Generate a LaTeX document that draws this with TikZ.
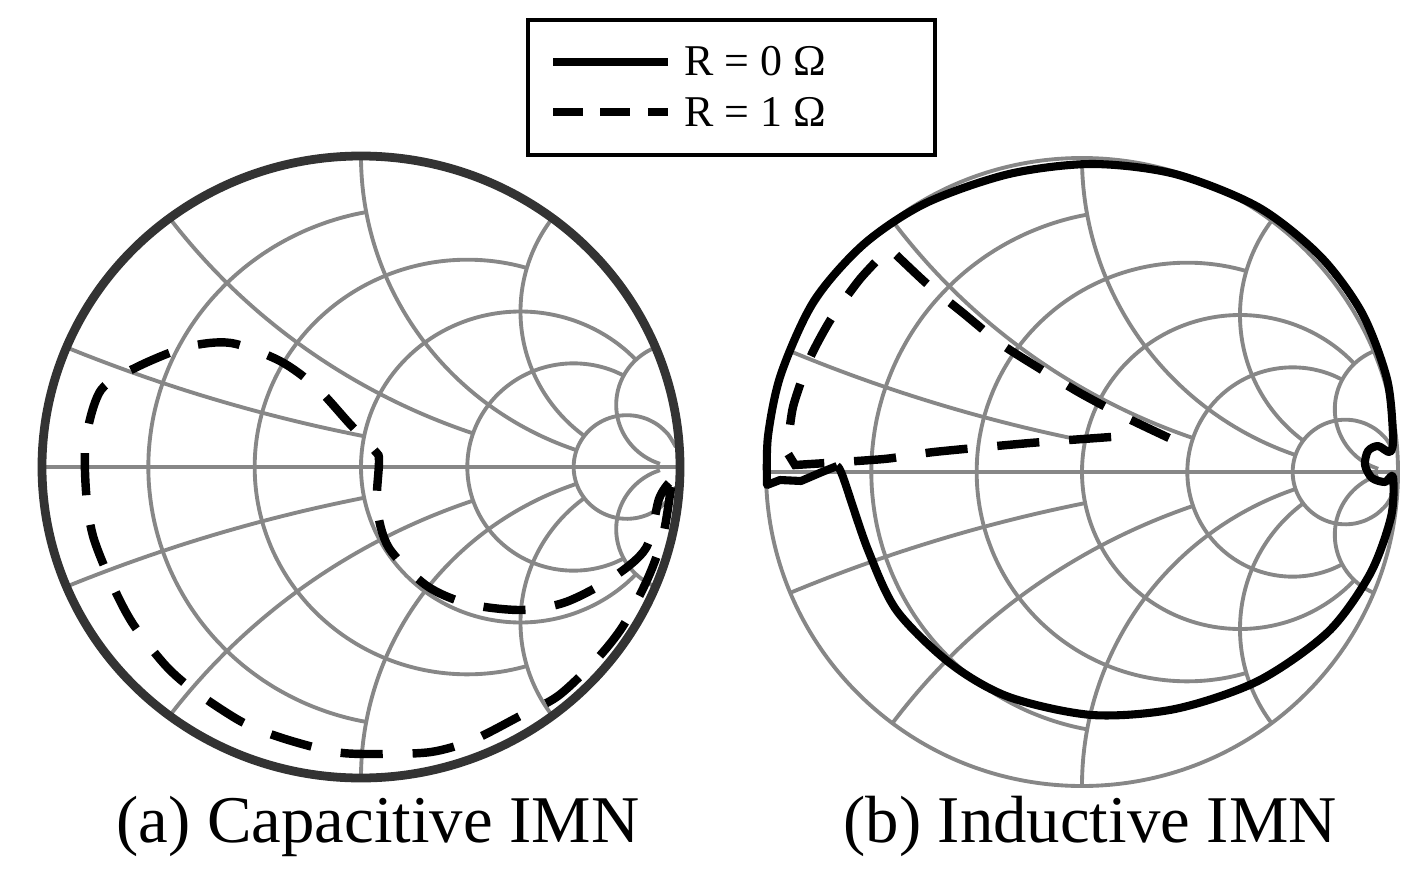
\documentclass[tikz,border=0pt]{standalone}
\usepackage{fontspec}
\setmainfont{Liberation Serif}
\begin{document}
\begin{tikzpicture}[x=0.02cm,y=-0.02cm,
  gridline/.style={draw=black!47,line width=2.2pt},
  curve/.style={draw=black,line width=4.6pt},
  dcurve/.style={draw=black,line width=4.8pt,dash pattern=on 24pt off 17pt},
  lbl/.style={font=\fontsize{38}{40}\selectfont,inner sep=0pt}]
\useasboundingbox (0,0) rectangle (1426,875);
\newcommand\smithgridA{%
  \foreach \r/\L in {0.2/1,0.5/2,1/5,2/5,5/30}{%
    \pgfmathsetmacro\aa{atan(\L)}%
    \draw[gridline] plot[domain=-\aa:\aa,samples=120,variable=\t,smooth]
      ({(\r*\r+tan(\t)*tan(\t)-1)/((\r+1)*(\r+1)+tan(\t)*tan(\t))},{2*tan(\t)/((\r+1)*(\r+1)+tan(\t)*tan(\t))});
    \pgfmathsetmacro\bb{atan(\L)}%
    \foreach \s in {1,-1}{%
      \draw[gridline] plot[domain=0:\bb,samples=100,variable=\t,smooth]
        ({(tan(\t)*tan(\t)+\r*\r-1)/((tan(\t)+1)*(tan(\t)+1)+\r*\r)},{\s*2*\r/((tan(\t)+1)*(tan(\t)+1)+\r*\r)});
    }%
  }%
  \draw[gridline] (-1,0) -- (1,0);
}
% left chart
\begin{scope}[shift={(361,467)},xscale=319,yscale=-311]
  \smithgridA
  \draw[draw=black!80,line width=5pt] (0,0) circle[x radius=1,y radius=1];
\end{scope}
% right chart
\begin{scope}[shift={(1082,472)},xscale=316,yscale=-314]
  \smithgridA
  \draw[gridline] (0,0) circle[x radius=1,y radius=1];
\end{scope}
% left dashed curve
\draw[dcurve] plot[smooth,tension=0.5] coordinates {(671,487) (663,536) (648,578) (623,626) (596,660) (558,696) (520,716) (473,740) (431,752) (377,754) (335,752) (282,738) (242,722) (196,692) (166,666) (133,624) (112,584) (93,536) (86,491) (86,439) (101,390) (137,367) (187,347) (231,343) (280,361) (316,387) (349,423) (375,451) (379,461) (377,507) (389,548) (427,586) (469,604) (522,610) (566,602) (612,578) (646,548) (659,499) (669,483)};
% right solid curve
\draw[curve,line join=round] plot[smooth,tension=0.5] coordinates {(837,466) (843,477) (868,550) (897,611) (951,664) (1009,697) (1092,715) (1175,709) (1258,681) (1328,632) (1370,574) (1391,517) (1393,477) (1385,482) (1372,478) (1365,465) (1368,451) (1378,446) (1390,452) (1393,436) (1387,379) (1362,313) (1320,256) (1258,207) (1175,174) (1092,164) (1009,174) (926,203) (864,244) (814,301) (781,374) (768,436) (767,485)}
  -- (780,480) -- (801,481) -- (822,472) -- (837,466);
% right dashed curve
\draw[dcurve,line join=miter] plot[smooth,tension=0.4] coordinates {(1169,438) (1125,417) (1080,393) (1042,370) (1001,344) (963,313) (926,283) (889,248)} -- plot[smooth,tension=0.4] coordinates {(889,248) (860,279) (831,319) (810,358) (793,407) (787,452)} -- plot[smooth,tension=0.4] coordinates {(795,465) (884,459) (934,452) (1030,443) (1125,436)};
% legend
\node[draw=black,line width=1.8pt,minimum width=407*0.02cm,minimum height=135*0.02cm,inner sep=0pt] (legend) at (731.5,87.5) {};
\coordinate (s1) at (553,62); \coordinate (s2) at (668,62);
\coordinate (d1) at (553,112); \coordinate (d2) at (668,112);
\draw[black,line width=4.6pt] (s1) -- (s2);
\draw[black,line width=4.6pt,dash pattern=on 17pt off 10pt] (d1) -- (d2);
\node[anchor=west,inner sep=0pt,font=\fontsize{25}{27}\selectfont] (l1) at (684,61) {R = 0 Ω};
\node[anchor=west,inner sep=0pt,font=\fontsize{25}{27}\selectfont] (l2) at (684,112) {R = 1 Ω};
% captions
\node[lbl] (capA) at (378,826) {(a) Capacitive IMN};
\node[lbl] (capB) at (1090,826) {(b) Inductive IMN};
\end{tikzpicture}
\end{document}
